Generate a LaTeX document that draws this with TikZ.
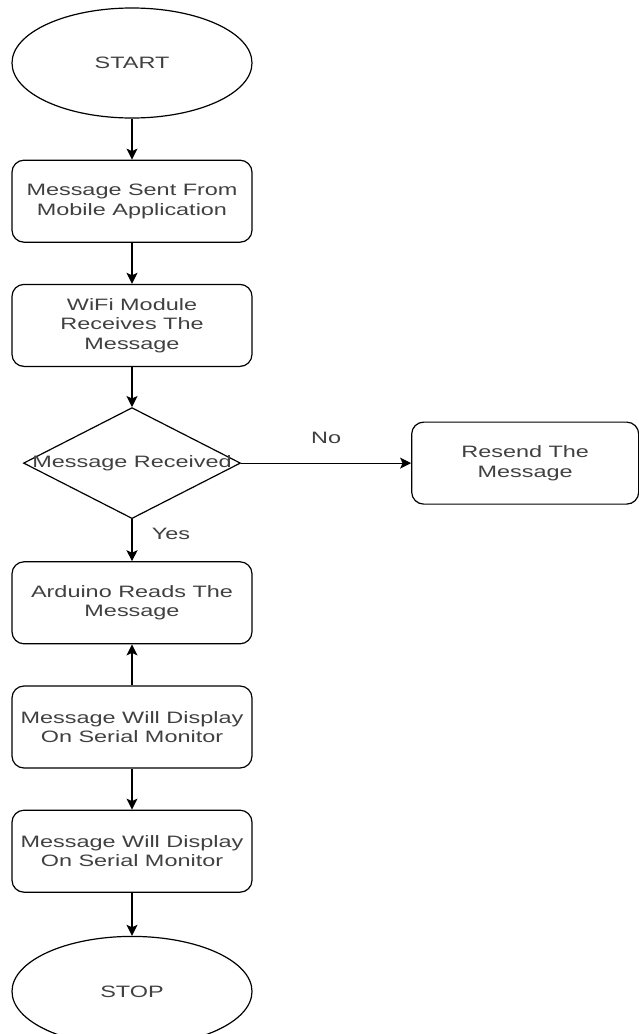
\documentclass[tikz,border=0pt]{standalone}
\usepackage{fontspec}
\newfontfamily\flowfont[FakeStretch=1.42]{Liberation Sans}
\usetikzlibrary{shapes,arrows.meta,positioning}
\tikzset{
terminal/.style = {draw, ellipse, minimum width=240pt, minimum height=110pt, inner sep=0pt},
process/.style  = {draw, rectangle, rounded corners=12pt, minimum width=240pt, minimum height=82pt, align=center, inner sep=0pt},
decision/.style = {draw, diamond, minimum width=217pt, minimum height=111pt, inner sep=0pt},
}

\begin{document}
\begin{tikzpicture}[node distance=41pt, >={Stealth[length=11pt,width=11pt,inset=2.5pt]},
    line width=1.2pt, font=\flowfont\fontsize{16.5}{19.5}\selectfont, text=black!75]
    \useasboundingbox (0,0) rectangle (638pt,-1034pt);
    \node [terminal] (start) at (132pt,-63pt) {START};
    \node [process, below=of start] (sent) {Message Sent From\\Mobile Application};
    \node [process, below=of sent] (wifi) {WiFi Module\\Receives The\\Message};
    \node [decision, below=40pt of wifi] (recv) {\makebox[0pt]{Message Received}};
    \node [process, right=170pt of recv, minimum width=227pt] (resend) {Resend The\\Message};
    \node [process, below=42pt of recv] (reads) {Arduino Reads The\\Message};
    \node [process, below=of reads] (disp1) {Message Will Display\\On Serial Monitor};
    \node [process, below=of disp1] (disp2) {Message Will Display\\On Serial Monitor};
    \node [terminal, below=43pt of disp2] (stop) {STOP};
    \draw [->] (start) -- (sent);
    \draw [->] (sent) -- (wifi);
    \draw [->] (wifi) -- (recv);
    \draw [->] (recv) -- node[above=16pt]{No} (resend);
    \draw [->] (recv) -- node[right=16pt, pos=0.35]{Yes} (reads);
    \draw [->] (disp1) -- (reads);
    \draw [->] (disp1) -- (disp2);
    \draw [->] (disp2) -- (stop);
\end{tikzpicture}
\end{document}
